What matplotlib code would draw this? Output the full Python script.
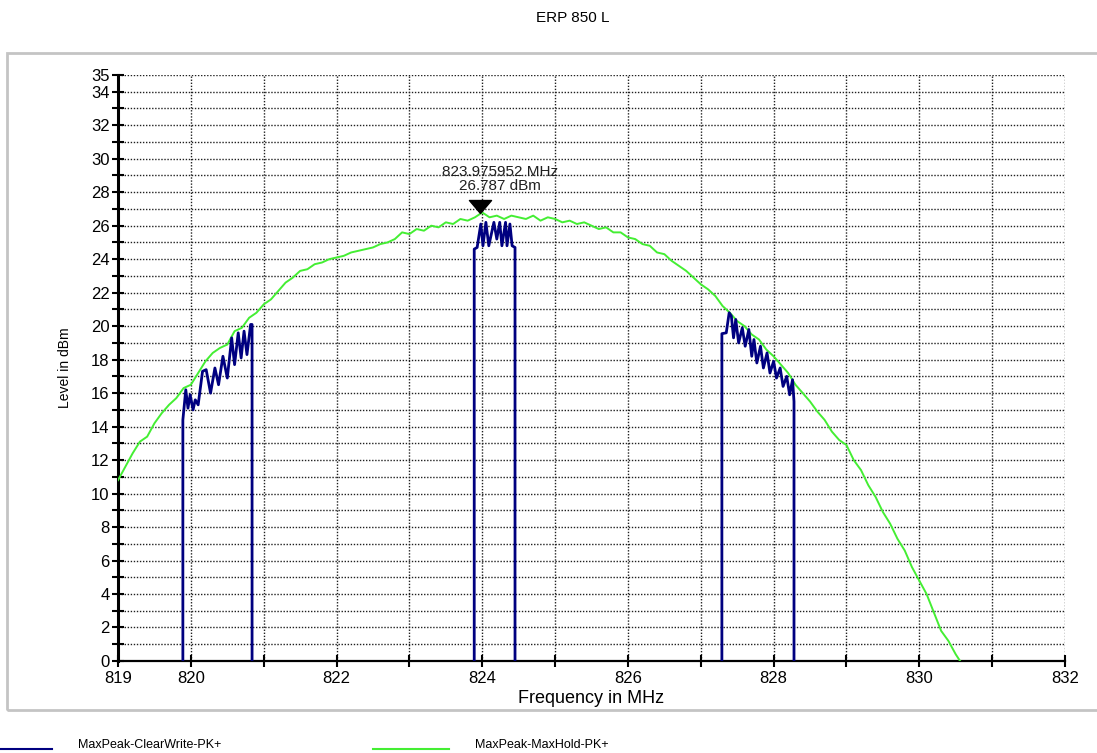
import numpy as np
import matplotlib
matplotlib.use("Agg")
import matplotlib.pyplot as plt
from matplotlib.lines import Line2D
from matplotlib.patches import Rectangle
from matplotlib.ticker import FixedLocator, FuncFormatter

plt.rcParams['font.family'] = ['Liberation Sans', 'DejaVu Sans']

# MaxPeak-MaxHold-PK+ (green trace), read every 0.1 MHz
hold_freq = list(np.round(np.arange(819.0, 830.55, 0.1), 1)) + [830.56]
hold_level = [10.8, 11.6, 12.4, 13.1, 13.4, 14.2, 14.8, 15.3, 15.7, 16.3,
              16.5, 17.2, 17.9, 18.4, 18.7, 18.9, 19.7, 19.9, 20.5, 20.8,
              21.3, 21.6, 22.1, 22.6, 22.9, 23.3, 23.4, 23.7, 23.8, 24.0,
              24.1, 24.2, 24.4, 24.5, 24.6, 24.7, 24.9, 25.0, 25.2, 25.6,
              25.5, 25.8, 25.7, 26.0, 25.9, 26.2, 26.1, 26.4, 26.3, 26.5,
              26.79, 26.5, 26.6, 26.4, 26.6, 26.5, 26.4, 26.6, 26.3, 26.5,
              26.4, 26.2, 26.3, 26.1, 26.2, 26.0, 25.8, 25.9, 25.6, 25.6,
              25.3, 25.2, 24.9, 24.8, 24.4, 24.3, 23.9, 23.6, 23.3, 22.9,
              22.5, 22.2, 21.8, 21.2, 20.8, 20.3, 20.0, 19.5, 19.2, 18.6,
              18.2, 17.7, 17.2, 16.5, 16.0, 15.5, 14.9, 14.4, 13.7, 13.2,
              12.9, 12.0, 11.4, 10.5, 9.8, 8.9, 8.2, 7.3, 6.6, 5.6,
              4.8, 4.0, 2.9, 1.8, 1.2, 0.4, 0.0]

# MaxPeak-ClearWrite-PK+ (blue trace), three bursts
clear_freq = [819.89, 819.89, 819.93, 819.96, 819.99, 820.03, 820.06, 820.10,
              820.16, 820.21, 820.27, 820.33, 820.38, 820.44, 820.50, 820.56,
              820.60, 820.65, 820.69, 820.73, 820.77, 820.82, 820.84, 820.84,
              None,
              823.89, 823.89, 823.93, 823.98, 824.01, 824.05, 824.09, 824.16,
              824.20, 824.24, 824.27, 824.32, 824.34, 824.38, 824.41, 824.45,
              824.45,
              None,
              827.29, 827.29, 827.35, 827.39, 827.42, 827.45, 827.48, 827.52,
              827.57, 827.61, 827.66, 827.70, 827.73, 827.77, 827.82, 827.86,
              827.91, 827.95, 828.00, 828.04, 828.09, 828.13, 828.18, 828.22,
              828.26, 828.28, 828.28]
clear_level = [0.0, 14.4, 16.2, 15.1, 15.9, 15.0, 15.6, 15.3,
               17.3, 17.4, 16.0, 17.5, 16.5, 18.2, 16.9, 19.3,
               17.7, 19.6, 18.1, 19.7, 18.3, 20.1, 20.1, 0.0,
               None,
               0.0, 24.6, 24.7, 26.1, 24.8, 26.2, 24.8, 26.2,
               25.2, 26.2, 24.8, 26.2, 24.8, 26.1, 24.8, 24.7,
               0.0,
               None,
               0.0, 19.55, 19.6, 20.8, 20.6, 19.3, 20.4, 19.0,
               19.9, 18.8, 19.8, 18.2, 19.2, 17.8, 18.8, 17.5,
               18.4, 17.2, 17.9, 16.9, 17.5, 16.4, 17.0, 15.9,
               16.8, 15.5, 0.0]

marker_freq = 823.975952
marker_level = 26.787

x_ticks = list(range(819, 833))
x_labels = [819, 820, 822, 824, 826, 828, 830, 832]
y_ticks = list(range(0, 36))
y_labels = list(range(0, 36, 2)) + [35]

fig = plt.figure(figsize=(10.97, 7.53), dpi=100)
ax = fig.add_axes([0.1076, 0.1222, 0.8632, 0.7782])

cw = [np.nan if v is None else v for v in clear_level]
cf = [np.nan if v is None else v for v in clear_freq]
ax.plot(hold_freq, hold_level, color='#44ee33', linewidth=1.4, zorder=3)
ax.plot(cf, cw, color='#000080', linewidth=2.0, zorder=4)

tri = [(0, 0), (-0.85, 1), (0.85, 1), (0, 0)]
ax.plot([marker_freq], [marker_level], marker=tri, markersize=18.7,
        color='black', linestyle='none', zorder=5, clip_on=False)
ax.annotate('%.6f MHz\n%.3f dBm' % (marker_freq, marker_level),
            xy=(marker_freq, marker_level), xytext=(14, 24),
            textcoords='offset points', ha='center', va='center',
            fontsize=11, linespacing=1.0, color='#202020')

ax.set_xlim(819, 832)
ax.set_ylim(0, 35)
ax.xaxis.set_major_locator(FixedLocator(x_ticks))
ax.yaxis.set_major_locator(FixedLocator(y_ticks))
ax.xaxis.set_major_formatter(FuncFormatter(lambda v, p: '%d' % v if int(round(v)) in x_labels else ''))
ax.yaxis.set_major_formatter(FuncFormatter(lambda v, p: '%d' % v if int(round(v)) in y_labels else ''))
ax.tick_params(axis='both', direction='inout', length=8, width=1.5,
               labelsize=12, colors='black')
ax.tick_params(axis='y', pad=2)
ax.tick_params(axis='x', pad=3)

ax.grid(True, color='#202020', linestyle=(0, (1, 1.2)), linewidth=1.0)
for s in ['top', 'right']:
    ax.spines[s].set_visible(False)
ax.spines['left'].set_linewidth(2.2)
ax.spines['bottom'].set_linewidth(1.6)

ax.set_xlabel('Frequency in MHz', fontsize=13, labelpad=3)
ax.set_ylabel('Level in dBm', fontsize=10, labelpad=14)

fig.text(0.522, 0.976, 'ERP 850 L', ha='center', va='center', fontsize=11)

fig.add_artist(Rectangle((7 / 1097, 43 / 753), 1.0, 657 / 753,
                         transform=fig.transFigure, fill=False,
                         edgecolor='#c4c4c4', linewidth=2))

ly = 1 - 749 / 753
fig.add_artist(Line2D([0, 52 / 1097], [ly, ly], color='#000080', linewidth=1.5,
                      transform=fig.transFigure))
fig.add_artist(Line2D([373 / 1097, 449 / 1097], [ly, ly], color='#44ee33',
                      linewidth=1.5, transform=fig.transFigure))
ty = 1 - 745 / 753
fig.text(78 / 1097, ty, 'MaxPeak-ClearWrite-PK+', fontsize=9, va='center')
fig.text(475 / 1097, ty, 'MaxPeak-MaxHold-PK+', fontsize=9, va='center')

fig.savefig('out.png', dpi=100)
